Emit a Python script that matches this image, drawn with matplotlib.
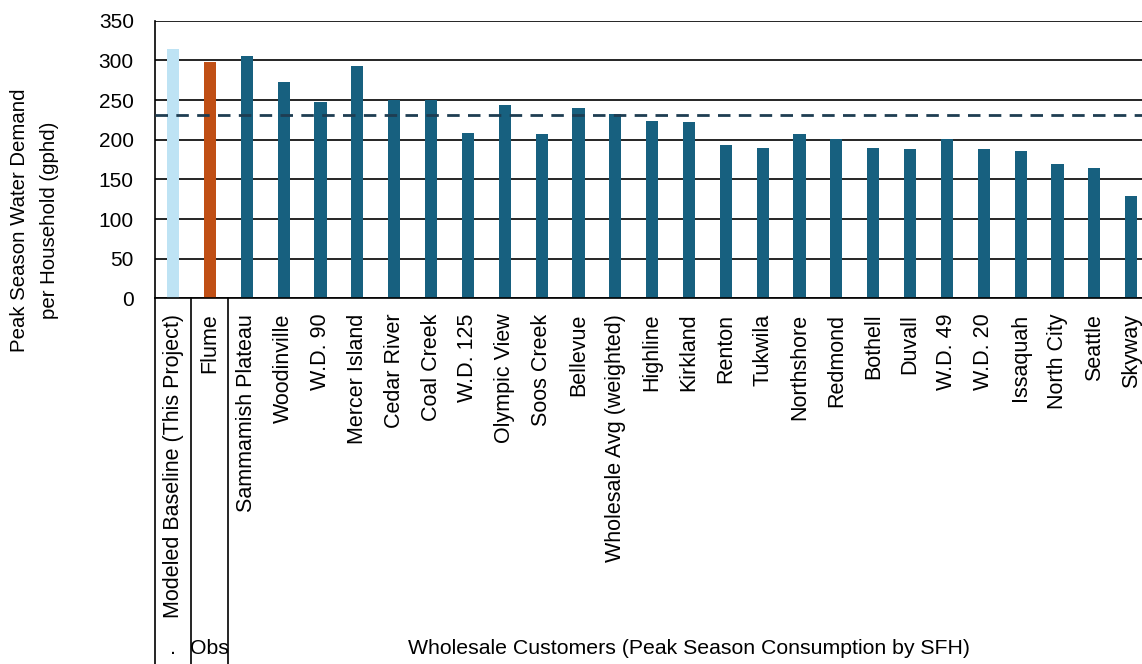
import numpy as np
import matplotlib.pyplot as plt

plt.rcParams['font.family'] = ['Liberation Sans', 'DejaVu Sans']

# ---------- data ----------
names = ['Modeled Baseline (This Project)', 'Flume', 'Sammamish Plateau', 'Woodinville',
         'W.D. 90', 'Mercer Island', 'Cedar River', 'Coal Creek', 'W.D. 125',
         'Olympic View', 'Soos Creek', 'Bellevue', 'Wholesale Avg (weighted)',
         'Highline', 'Kirkland', 'Renton', 'Tukwila', 'Northshore', 'Redmond',
         'Bothell', 'Duvall', 'W.D. 49', 'W.D. 20', 'Issaquah', 'North City',
         'Seattle', 'Skyway']
demand = [314, 298, 306, 273, 248, 293, 250, 250, 208, 244, 207, 240, 232,
          224, 222, 194, 190, 207, 201, 190, 188, 201, 189, 186, 169, 165, 129]
wholesale_avg = 231

groups = ['.', 'Obs', 'Wholesale Customers (Peak Season Consumption by SFH)']
group_sizes = [1, 1, 25]

c_model = '#BEE3F4'
c_obs = '#C04F15'
c_whole = '#17607F'
colors = [c_model, c_obs] + [c_whole] * (len(names) - 2)

# ---------- figure ----------
fig = plt.figure(figsize=(11.42, 6.64), dpi=100)
ax = fig.add_axes([0.1354, 0.5505, 0.8713, 0.4182])

x = np.arange(len(names))
ax.bar(x, demand, width=0.33, color=colors, zorder=2)
ax.axhline(wholesale_avg, color='#1E3D52', linestyle=(0, (4.5, 3)), linewidth=2, zorder=3)

ax.set_xlim(-0.5, len(names) - 0.5)
ax.set_ylim(0, 350)
ax.set_yticks(np.arange(0, 351, 50))
ax.yaxis.grid(True, color='black', linewidth=1.2)
ax.set_axisbelow(True)
ax.tick_params(axis='y', length=0, labelsize=15, pad=15)
ax.tick_params(axis='x', length=0, labelsize=15.5, pad=11)
ax.set_xticks(x)
ax.set_xticklabels(names, rotation=90, va='top')

for s in ['top', 'right']:
    ax.spines[s].set_visible(False)
for s in ['left', 'bottom']:
    ax.spines[s].set_color('black')
    ax.spines[s].set_linewidth(1.2)

# ---------- group axis ----------
trans = ax.get_xaxis_transform()
bottom = -1.32
edges = np.concatenate([[0], np.cumsum(group_sizes)]) - 0.5
for e in edges[:-1]:
    ax.plot([e, e], [0, bottom], transform=trans, color='black', linewidth=1.2, clip_on=False)
for g, lo, hi in zip(groups, edges[:-1], edges[1:]):
    ax.text((lo + hi) / 2, -1.262, g, transform=trans, ha='center', va='center', fontsize=15.3)

fig.text(0.03, 0.668, 'Peak Season Water Demand\nper Household (gphd)', rotation=90,
         ha='center', va='center', fontsize=14.7, linespacing=1.75)

fig.savefig('out.png', dpi=100)
